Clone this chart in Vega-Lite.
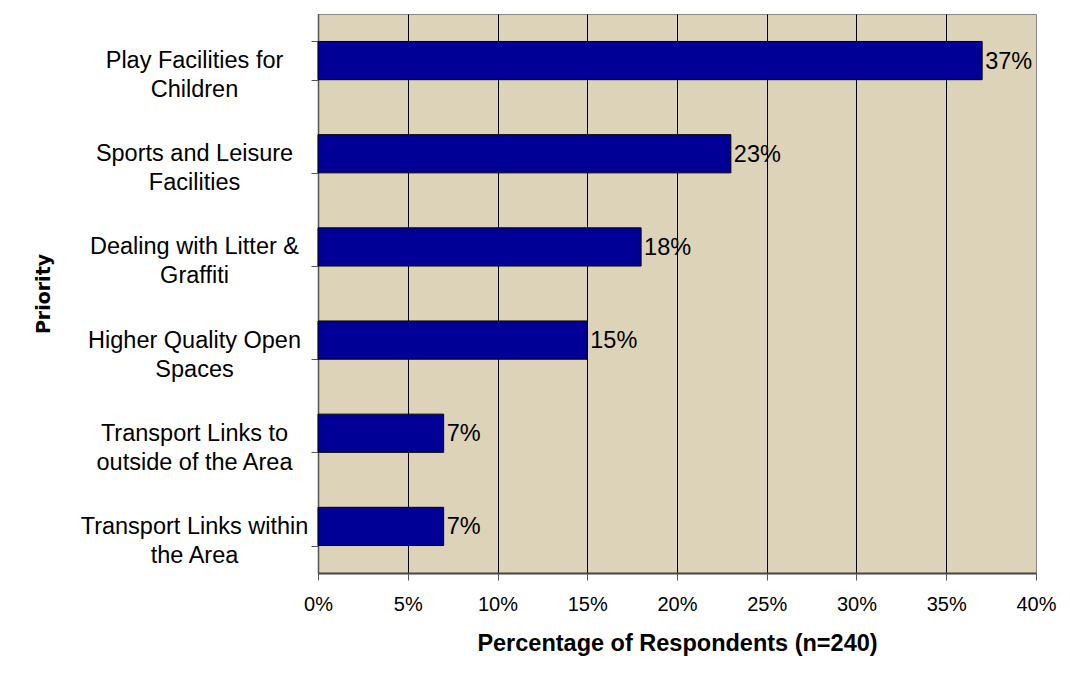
{
  "$schema": "https://vega.github.io/schema/vega-lite/v6.json",
  "autosize": "none",
  "width": 718,
  "height": 559,
  "padding": {"left": 318, "top": 14, "right": 34, "bottom": 118},
  "background": "white",
  "data": {
    "values": [
      {"priority": "Play Facilities for|Children", "pct": 0.37},
      {"priority": "Sports and Leisure|Facilities", "pct": 0.23},
      {"priority": "Dealing with Litter &|Graffiti", "pct": 0.18},
      {"priority": "Higher Quality Open|Spaces", "pct": 0.15},
      {"priority": "Transport Links to|outside of the Area", "pct": 0.07},
      {"priority": "Transport Links within|the Area", "pct": 0.07}
    ]
  },
  "encoding": {
    "y": {
      "field": "priority",
      "type": "nominal",
      "sort": null,
      "scale": {"paddingInner": 0.59, "paddingOuter": 0.295},
      "axis": {
        "title": "Priority",
        "titleFont": "DejaVu Sans",
        "titleFontSize": 19,
        "titleFontWeight": "bold",
        "titleColor": "black",
        "titleX": -275,
        "titleBaseline": "middle",
        "titleAngle": -90,
        "labelExpr": "datum.value ? split(datum.value, '|') : ''",
        "labelFont": "Liberation Sans",
        "labelFontSize": 23.5,
        "labelColor": "black",
        "labelAlign": "center",
        "labelBaseline": "middle",
        "labelLineHeight": 29,
        "labelPadding": 117,
        "labelLimit": 400,
        "tickSize": 7,
        "tickColor": "#555555",
        "tickBand": "extent",
        "domainColor": "#555555",
        "domainWidth": 1.5,
        "grid": false
      }
    }
  },
  "layer": [
    {
      "mark": {"type": "bar", "color": "#000096", "stroke": "black", "strokeWidth": 1},
      "encoding": {
        "x": {
          "field": "pct",
          "type": "quantitative",
          "scale": {"domain": [0, 0.4], "nice": false},
          "axis": {
            "title": "Percentage of Respondents (n=240)",
            "titleFont": "Liberation Sans",
            "titleFontSize": 23.5,
            "titleFontWeight": "bold",
            "titleColor": "black",
            "titleY": 70,
            "titleBaseline": "middle",
            "values": [0, 0.05, 0.1, 0.15, 0.2, 0.25, 0.3, 0.35, 0.4],
            "format": ".0%",
            "labelFont": "Liberation Sans",
            "labelFontSize": 20,
            "labelColor": "black",
            "labelPadding": 14,
            "labelFlush": false,
            "tickSize": 7,
            "tickColor": "#555555",
            "domainColor": "#444444",
            "domainWidth": 2,
            "grid": true,
            "gridColor": {"condition": {"test": "datum.value >= 0.4", "value": "#888888"}, "value": "black"},
            "gridOpacity": 1,
            "gridWidth": 1
          }
        }
      }
    },
    {
      "mark": {"type": "text", "align": "left", "baseline": "middle", "dx": 3, "dy": 1, "font": "Liberation Sans", "fontSize": 23.5, "color": "black"},
      "encoding": {
        "x": {"field": "pct", "type": "quantitative"},
        "text": {"field": "pct", "type": "quantitative", "format": ".0%"}
      }
    }
  ],
  "config": {
    "view": {"fill": "#DDD3B8", "stroke": "#888888", "strokeWidth": 1}
  }
}
